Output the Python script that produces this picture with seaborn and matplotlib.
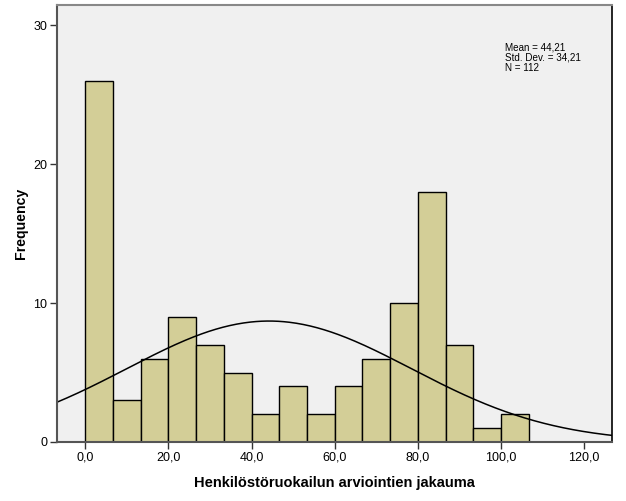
import numpy as np
import seaborn as sns
from matplotlib import pyplot as plt
from matplotlib.ticker import FuncFormatter

# --- Data ---
bin_width = 100 / 15
bin_starts = [i * bin_width for i in range(16)]
counts = [26, 3, 6, 9, 7, 5, 2, 4, 2, 4, 6, 10, 18, 7, 1, 2]
mean_value = 44.21
std_dev = 34.21
n_total = 112

x_ticks = [0, 20, 40, 60, 80, 100, 120]
y_ticks = [0, 10, 20, 30]

sns.set_style("white")
plt.rcParams['font.family'] = ['Liberation Sans', 'DejaVu Sans']
plt.rcParams['text.color'] = 'black'
plt.rcParams['axes.labelcolor'] = 'black'
plt.rcParams['xtick.color'] = 'black'
plt.rcParams['ytick.color'] = 'black'

fig = plt.figure(figsize=(6.26, 5.01), dpi=100)
ax = fig.add_axes([0.0915, 0.1178, 0.8861, 0.8722])
ax.set_facecolor('#f0f0f0')

centers = [s + bin_width / 2 for s in bin_starts]
edges = bin_starts + [bin_starts[-1] + bin_width]
sns.histplot(x=centers, weights=counts, bins=edges, ax=ax,
             color='#d3ce97', edgecolor='black', linewidth=1.0, alpha=1.0)

# normal curve scaled to the counts
xs = np.linspace(-6.73, 126.7, 400)
dens = np.exp(-0.5 * ((xs - mean_value) / std_dev) ** 2) / (std_dev * np.sqrt(2 * np.pi))
sns.lineplot(x=xs, y=dens * n_total * bin_width, ax=ax, color='black', linewidth=1.1)

ax.set_xlim(-6.73, 126.7)
ax.set_ylim(0, 31.46)
ax.set_xticks(x_ticks)
ax.set_yticks(y_ticks)
ax.xaxis.set_major_formatter(FuncFormatter(lambda v, p: f"{v:.1f}".replace('.', ',')))
ax.tick_params(axis='both', direction='out', length=5, width=1, color='#333333',
               labelsize=9, pad=2, bottom=True, left=True)

for side in ['left', 'bottom']:
    ax.spines[side].set_color('#555555')
    ax.spines[side].set_linewidth(1.5)
ax.spines['top'].set_color('#888888')
ax.spines['top'].set_linewidth(1.5)
ax.spines['right'].set_color('black')
ax.spines['right'].set_linewidth(1.2)

ax.set_xlabel("Henkilöstöruokailun arviointien jakauma", fontsize=10.5, fontweight='bold', labelpad=9)
ax.set_ylabel("Frequency", fontsize=10.2, fontweight='bold', labelpad=4)

stats_text = "\n".join([
    "Mean = " + f"{mean_value:.2f}".replace('.', ','),
    "Std. Dev. = " + f"{std_dev:.2f}".replace('.', ','),
    f"N = {n_total}",
])
ax.text(0.807, 0.915, stats_text, transform=ax.transAxes, fontsize=7.1,
        va='top', ha='left', linespacing=1.05)

fig.savefig("out.png", dpi=100)
